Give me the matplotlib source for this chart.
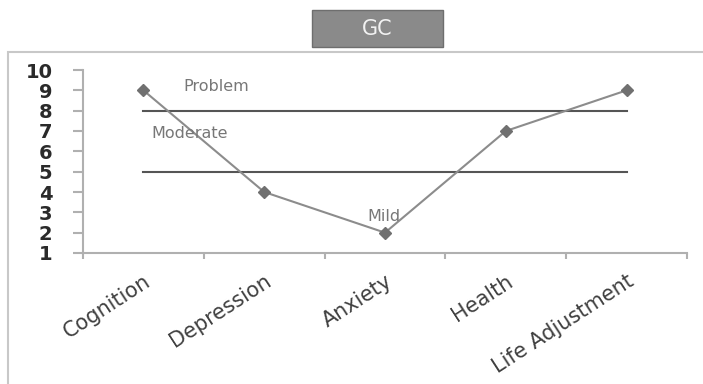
import matplotlib.pyplot as plt
from matplotlib.patches import Rectangle
from matplotlib.transforms import ScaledTranslation

categories = ["Cognition", "Depression", "Anxiety", "Health", "Life Adjustment"]
scores = [9, 4, 2, 7, 9]
y_ticks = [1, 2, 3, 4, 5, 6, 7, 8, 9, 10]
thresholds = [8, 5]
band_labels = ["Problem", "Moderate", "Mild"]
band_label_pos = [(1.33, 9.2), (1.07, 6.9), (2.85, 2.8)]

fig = plt.figure(figsize=(7.03, 3.84), dpi=100)
fig.patch.set_facecolor("white")

# outer frame of the chart area
fig.patches.append(Rectangle((8 / 703, -0.05), 1.0, (384 - 52) / 384 + 0.05,
                             transform=fig.transFigure, fill=False,
                             edgecolor="#c8c8c8", lw=1.5))

# title box
fig.patches.append(Rectangle((312 / 703, 1 - 47 / 384), 131 / 703, 37 / 384,
                             transform=fig.transFigure, facecolor="#8a8a8a",
                             edgecolor="#6e6e6e", lw=1))
fig.text(377 / 703, 1 - 29 / 384, "GC", color="#f2f2f2", fontsize=15,
         ha="center", va="center", family="DejaVu Sans")

ax = fig.add_axes([83 / 703, 131 / 384, (687 - 83) / 703, (253 - 70) / 384])
x = list(range(1, len(categories) + 1))

for t in thresholds:
    ax.plot([x[0], x[-1]], [t, t], color="#555555", lw=1.5, zorder=2)

ax.plot(x, scores, color="#8c8c8c", lw=1.5, marker="D", markersize=6,
        markerfacecolor="#707070", markeredgecolor="#707070", zorder=3)

for lbl, (lx, ly) in zip(band_labels, band_label_pos):
    ax.text(lx, ly, lbl, color="#777777", fontsize=11.5, ha="left",
            va="center", family="DejaVu Sans")

ax.set_xlim(0.5, len(categories) + 0.5)
ax.set_ylim(1, 10)
ax.set_yticks(y_ticks)
ax.set_yticklabels([str(v) for v in y_ticks], fontsize=14, fontweight="bold",
                   color="#2a2a2a")
ax.set_xticks([i + 0.5 for i in range(0, len(categories) + 1)])
ax.set_xticklabels([])
ax.set_xticks(x, minor=True)
ax.set_xticklabels(categories, minor=True, rotation=33, ha="right", va="top",
                   rotation_mode="anchor", fontsize=15, color="#404040",
                   family="DejaVu Sans")
shift = ScaledTranslation(5 / 100, 0, fig.dpi_scale_trans)
for lab in ax.get_xticklabels(minor=True):
    lab.set_transform(lab.get_transform() + shift)
ax.tick_params(axis="x", which="minor", length=0, pad=13)
ax.tick_params(axis="x", which="major", length=4, color="#b0b0b0", width=1.5)
ax.tick_params(axis="y", length=7, color="#b0b0b0", width=1.5, pad=15)

for s in ["top", "right"]:
    ax.spines[s].set_visible(False)
for s in ["left", "bottom"]:
    ax.spines[s].set_color("#b0b0b0")
    ax.spines[s].set_linewidth(1.5)

fig.savefig("out.png", dpi=100)
